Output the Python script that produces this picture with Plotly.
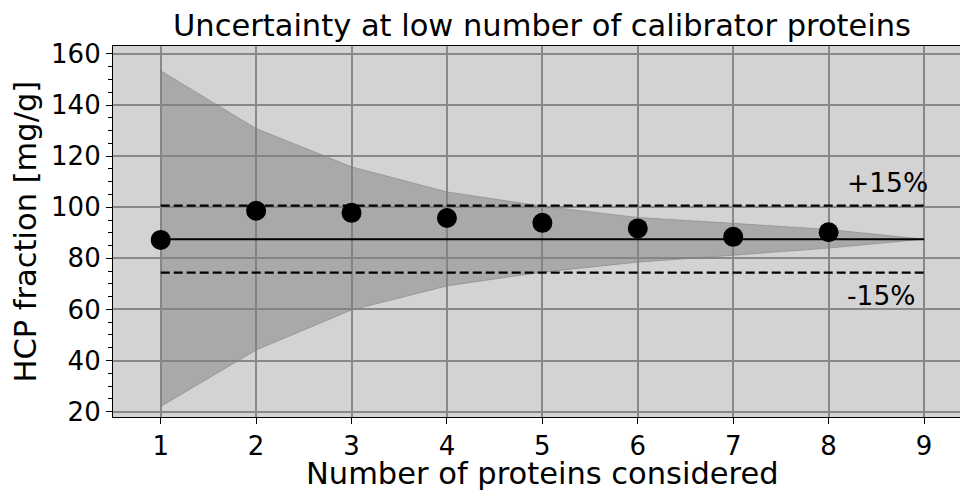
import plotly.graph_objects as go

# Data
n_proteins = [1, 2, 3, 4, 5, 6, 7, 8, 9]
band_upper = [153.4, 130.8, 115.8, 106.0, 100.4, 96.0, 93.7, 91.3, 87.5]
band_lower = [22.0, 44.1, 59.8, 69.2, 74.6, 78.5, 81.2, 84.0, 87.5]
point_x = [1, 2, 3, 4, 5, 6, 7, 8]
point_y = [87.2, 98.6, 97.8, 95.8, 93.9, 91.7, 88.4, 90.2]
reference_value = 87.5
plus_15 = reference_value * 1.15
minus_15 = reference_value * 0.85
x_ticks = [1, 2, 3, 4, 5, 6, 7, 8, 9]
y_ticks = [20, 40, 60, 80, 100, 120, 140, 160]

FONT = "DejaVu Sans"

fig = go.Figure()

fig.add_trace(go.Scatter(x=n_proteins, y=band_upper, mode="lines",
                         line=dict(color="rgba(128,128,128,0.55)", width=1),
                         showlegend=False, hoverinfo="skip"))
fig.add_trace(go.Scatter(x=n_proteins, y=band_lower, mode="lines",
                         line=dict(color="rgba(128,128,128,0.55)", width=1),
                         fill="tonexty", fillcolor="rgba(128,128,128,0.5)",
                         showlegend=False, hoverinfo="skip"))

fig.add_trace(go.Scatter(x=[n_proteins[0], n_proteins[-1]], y=[plus_15, plus_15], mode="lines",
                         line=dict(color="black", width=2.2, dash="9px,4px"), showlegend=False))
fig.add_trace(go.Scatter(x=[n_proteins[0], n_proteins[-1]], y=[minus_15, minus_15], mode="lines",
                         line=dict(color="black", width=2.2, dash="9px,4px"), showlegend=False))
fig.add_trace(go.Scatter(x=[n_proteins[0], n_proteins[-1]], y=[reference_value, reference_value],
                         mode="lines", line=dict(color="black", width=2), showlegend=False))
fig.add_trace(go.Scatter(x=point_x, y=point_y, mode="markers",
                         marker=dict(color="black", size=20, line=dict(width=0)),
                         showlegend=False))

fig.update_layout(
    width=960, height=490,
    margin=dict(l=113, r=0, t=46, b=73),
    paper_bgcolor="white",
    plot_bgcolor="#d3d3d3",
    font=dict(family=FONT, size=26, color="black"),
    showlegend=False,
)

fig.update_xaxes(
    range=[0.5, 9.377], tickvals=x_ticks, ticktext=[str(v) for v in x_ticks],
    showgrid=True, gridcolor="#888888", gridwidth=1.5,
    showline=True, linecolor="black", linewidth=1.2, mirror=True,
    ticks="outside", ticklen=6, tickwidth=1, tickcolor="black",
    tickfont=dict(size=26, family=FONT), zeroline=False,
)
fig.update_yaxes(
    range=[17.9, 163.1], tickvals=y_ticks, ticktext=[str(v) for v in y_ticks],
    showgrid=True, gridcolor="#888888", gridwidth=1.5,
    showline=True, linecolor="black", linewidth=1.2, mirror=False,
    ticks="outside", ticklen=6, tickwidth=1, tickcolor="black",
    minor=dict(dtick=5, ticks="outside", ticklen=3.5, tickcolor="black", showgrid=False),
    tickfont=dict(size=26, family=FONT), zeroline=False,
)

fig.add_annotation(text="Uncertainty at low number of calibrator proteins",
                   xref="x", yref="paper", x=5, y=(417 - 26) / 371,
                   xanchor="center", yanchor="middle", showarrow=False,
                   font=dict(size=30.5, family=FONT))
fig.add_annotation(text="Number of proteins considered",
                   xref="x", yref="paper", x=5, y=(417 - 473) / 371,
                   xanchor="center", yanchor="middle", showarrow=False,
                   font=dict(size=30.5, family=FONT))
fig.add_annotation(text="HCP fraction [mg/g]", textangle=-90,
                   xref="paper", yref="paper", x=(25 - 113) / 847, y=0.5,
                   xanchor="center", yanchor="middle", showarrow=False,
                   font=dict(size=30.5, family=FONT))
fig.add_annotation(text="+15%", xref="x", yref="y", x=8.17, y=109.5,
                   xanchor="left", yanchor="middle", showarrow=False,
                   font=dict(size=26.5, family=FONT))
fig.add_annotation(text="-15%", xref="x", yref="y", x=8.17, y=65.6,
                   xanchor="left", yanchor="middle", showarrow=False,
                   font=dict(size=26.5, family=FONT))

fig.write_html("out.html")
